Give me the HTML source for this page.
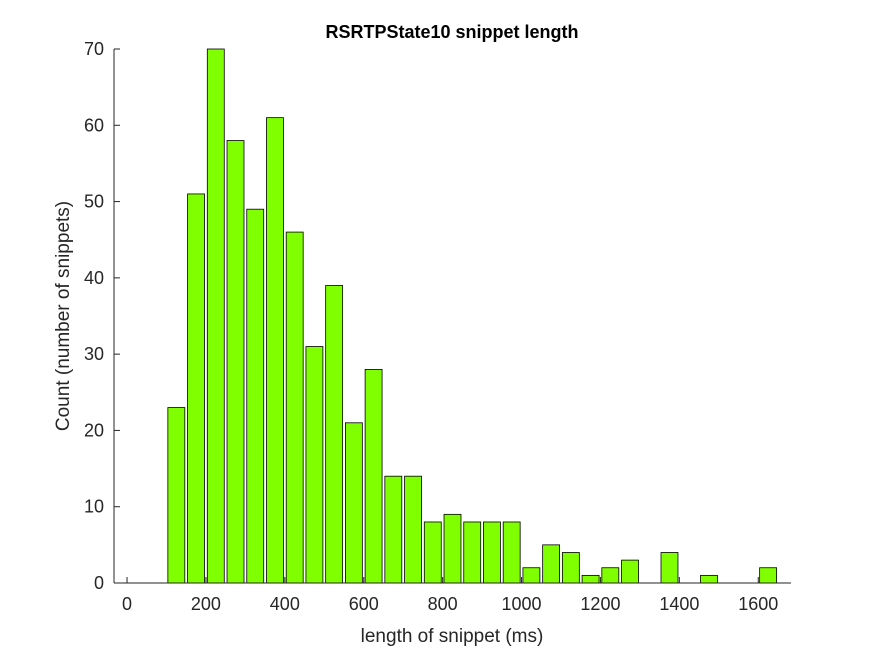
<!DOCTYPE html>
<html><head><meta charset="utf-8"><style>
body{margin:0;background:#fff;}
svg{font-family:"Liberation Sans",Arial,sans-serif;}
</style></head><body>
<svg id="chart" width="875" height="656" xmlns="http://www.w3.org/2000/svg">
<rect width="875" height="656" fill="#fff"/>
<g id="bars"></g>
<g id="axes"></g>
<text x="452" y="38" text-anchor="middle" font-size="18" font-weight="bold" fill="#000">RSRTPState10 snippet length</text>
<text x="452" y="642" text-anchor="middle" font-size="19" fill="#262626">length of snippet (ms)</text>
<text transform="translate(69,316) rotate(-90)" text-anchor="middle" font-size="19" fill="#262626">Count (number of snippets)</text>
</svg>
<script>
const binCenters=[25,75,125,175,225,275,325,375,425,475,525,575,625,675,725,775,825,875,925,975,1025,1075,1125,1175,1225,1275,1325,1375,1425,1475,1525,1575,1625];
const counts=[0,0,23,51,70,58,49,61,46,31,39,21,28,14,14,8,9,8,8,8,2,5,4,1,2,3,0,4,0,1,0,0,2];
const xTicks=[0,200,400,600,800,1000,1200,1400,1600];
const yTicks=[0,10,20,30,40,50,60,70];
const binWidth=50;
const X0=114,X1=791,Y0=583,Y1=49,xmin=-33,xmax=1683,ymin=0,ymax=70;
const xs=v=>X0+(v-xmin)/(xmax-xmin)*(X1-X0);
const ys=v=>Y0-(v-ymin)/(ymax-ymin)*(Y0-Y1);
const NS="http://www.w3.org/2000/svg";
const bars=document.getElementById('bars'),axes=document.getElementById('axes');
function mk(tag,attrs,parent){const e=document.createElementNS(NS,tag);for(const k in attrs)e.setAttribute(k,attrs[k]);parent.appendChild(e);return e;}
binCenters.forEach((c,i)=>{
  const w=(xs(binWidth)-xs(0))*0.86;
  const r=mk('rect',{x:xs(c)-w/2,y:ys(counts[i]),width:w,height:Math.max(0,ys(0)-ys(counts[i])),fill:'#80ff00',stroke:'#000','stroke-width':0.8},bars);
  
  
});
const xa=mk('line',{x1:X0,y1:Y0,x2:X1,y2:Y0,stroke:'#262626','stroke-width':1},axes);


const ya=mk('line',{x1:X0,y1:Y0,x2:X0,y2:Y1,stroke:'#262626','stroke-width':1},axes);


xTicks.forEach(t=>{
  mk('line',{x1:xs(t),y1:Y0,x2:xs(t),y2:Y0-6,stroke:'#262626'},axes);
  const tx=mk('text',{x:xs(t),y:Y0+27,'text-anchor':'middle','font-size':18,fill:'#262626'},axes);
  tx.textContent=t;
  
  
});
yTicks.forEach(t=>{
  mk('line',{x1:X0,y1:ys(t),x2:X0+6,y2:ys(t),stroke:'#262626'},axes);
  const tx=mk('text',{x:X0-10,y:ys(t)+6,'text-anchor':'end','font-size':18,fill:'#262626'},axes);
  tx.textContent=t;
  
  
});
</script>
</body></html>
